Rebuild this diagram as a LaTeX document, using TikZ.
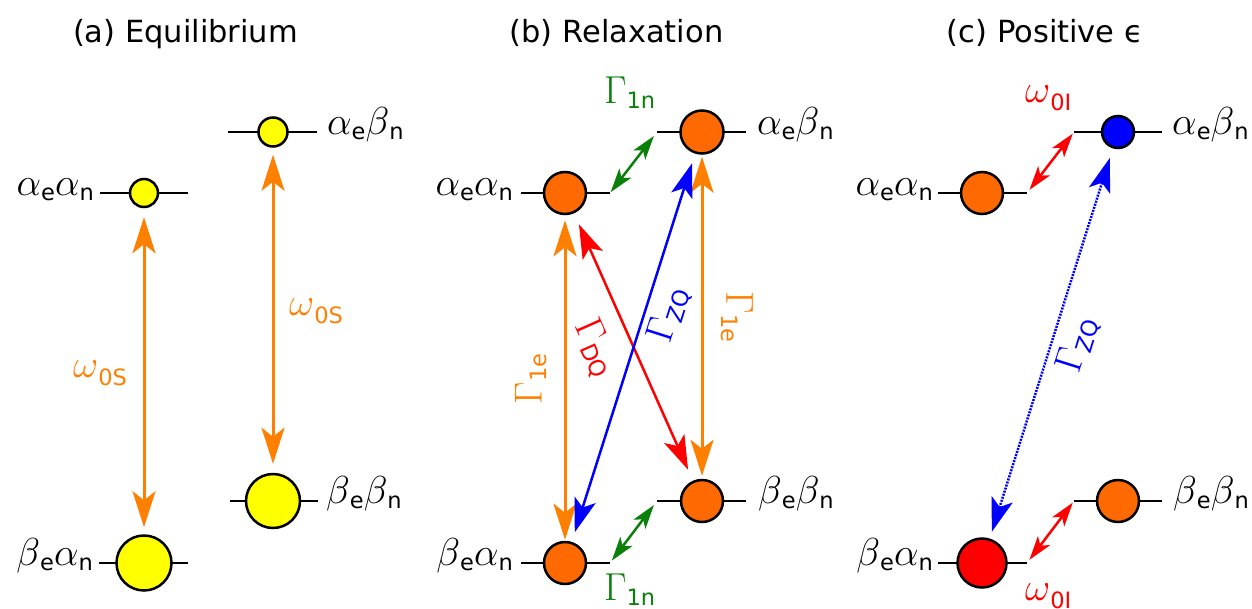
\documentclass[tikz,border=0pt]{standalone}
\usepackage{fix-cm}
\usepackage{fontspec}
\newfontfamily\subf{DejaVu Sans}
\newfontfamily\titf{DejaVu Sans}
\usetikzlibrary{arrows.meta}
\definecolor{yel}{RGB}{255,255,0}
\definecolor{orc}{RGB}{255,106,0}
\definecolor{ora}{RGB}{255,127,0}
\definecolor{grn}{RGB}{10,128,10}
\definecolor{rd}{RGB}{255,0,0}
\definecolor{bl}{RGB}{0,0,255}
\newcommand{\sub}[1]{\raisebox{-5pt}{\fontsize{22.5}{22}\selectfont\subf #1}}
\newcommand{\subw}[1]{\raisebox{-8pt}{\fontsize{22.5}{22}\selectfont\subf #1}}
\newcommand{\mth}{\fontsize{39}{40}\selectfont}
\tikzset{
  lvl/.style={line width=1.5pt, black},
  st/.style={circle, draw=black, line width=2.5pt, inner sep=0pt, minimum size=#1},
  lab/.style={font=\mth, inner sep=0pt},
  ttl/.style={font=\fontsize{30.5}{32}\selectfont\titf, inner sep=0pt, anchor=base},
  oarr/.style={draw=ora, line width=3pt, >={Stealth[length=36pt,width=23pt,inset=9pt]}, <->},
  garr/.style={draw=grn, line width=2.5pt, >={Stealth[length=24pt,width=15pt,inset=6pt]}, <->},
  rarr/.style={draw=rd, line width=2.5pt, >={Stealth[length=24pt,width=15pt,inset=6pt]}, <->},
  darr/.style={line width=2.5pt, >={Stealth[length=34pt,width=22pt,inset=8pt]}, <->},
  zarr/.style={draw=bl, line width=2.5pt, dash pattern=on 2pt off 1.2pt, >={Stealth[length=34pt,width=22pt,inset=8pt]}, <->},
}
\begin{document}
\begin{tikzpicture}[x=1pt,y=-1pt]
\useasboundingbox (0,0) rectangle (1252,608);
% titles
\node[ttl] (ta) at (185.5,42) {(a) Equilibrium};
\node[ttl] (tb) at (616.5,42) {(b) Relaxation};
\node[ttl] (tc) at (1045,42) {(c) Positive ϵ};
% ---------- level line end points
\coordinate (aAA-l) at (100,193); \coordinate (aAA-r) at (188,193);
\coordinate (aAB-l) at (228,132); \coordinate (aAB-r) at (317,132);
\coordinate (aBB-l) at (230,501); \coordinate (aBB-r) at (318,501);
\coordinate (aBA-l) at (99,563);  \coordinate (aBA-r) at (188,563);
\coordinate (bAA-l) at (521,193); \coordinate (bAA-r) at (610,193);
\coordinate (bAB-l) at (657,132); \coordinate (bAB-r) at (746,132);
\coordinate (bBB-l) at (657,501); \coordinate (bBB-r) at (746,501);
\coordinate (bBA-l) at (521,563); \coordinate (bBA-r) at (610,563);
\coordinate (cAA-l) at (938,193); \coordinate (cAA-r) at (1027,193);
\coordinate (cAB-l) at (1074,132); \coordinate (cAB-r) at (1162,132);
\coordinate (cBB-l) at (1074,501); \coordinate (cBB-r) at (1162,501);
\coordinate (cBA-l) at (938,563); \coordinate (cBA-r) at (1027,563);
\foreach \n in {aAA,aAB,aBB,aBA,bAA,bAB,bBB,bBA,cAA,cAB,cBB,cBA}
  \draw[lvl] (\n-l) -- (\n-r);
% ---------- states
\node[st=28pt, fill=yel] (aAA) at (144,193) {};
\node[st=29pt, fill=yel] (aAB) at (273,132) {};
\node[st=54pt, fill=yel] (aBB) at (273,501) {};
\node[st=55pt, fill=yel] (aBA) at (144,563) {};
\node[st=42pt, fill=orc] (bAA) at (565,193) {};
\node[st=43pt, fill=orc] (bAB) at (702,132) {};
\node[st=42pt, fill=orc] (bBB) at (702,501) {};
\node[st=42pt, fill=orc] (bBA) at (565,563) {};
\node[st=42pt, fill=orc] (cAA) at (982,193) {};
\node[st=32pt, fill=bl]  (cAB) at (1118,132) {};
\node[st=42pt, fill=orc] (cBB) at (1118,501) {};
\node[st=49pt, fill=rd]  (cBA) at (982,563) {};
% ---------- state labels
\node[lab, anchor=base east] (laAA) at (94,195) {$\alpha$\sub{e}$\alpha$\sub{n}};
\node[lab, anchor=base west] (laAB) at (327,134) {$\alpha$\sub{e}$\beta$\sub{n}};
\node[lab, anchor=base west] (laBB) at (326,503) {$\beta$\sub{e}$\beta$\sub{n}};
\node[lab, anchor=base east] (laBA) at (93,565) {$\beta$\sub{e}$\alpha$\sub{n}};
\node[lab, anchor=base east] (lbAA) at (513,195) {$\alpha$\sub{e}$\alpha$\sub{n}};
\node[lab, anchor=base west] (lbAB) at (757,134) {$\alpha$\sub{e}$\beta$\sub{n}};
\node[lab, anchor=base west] (lbBB) at (758,503) {$\beta$\sub{e}$\beta$\sub{n}};
\node[lab, anchor=base east] (lbBA) at (513,565) {$\beta$\sub{e}$\alpha$\sub{n}};
\node[lab, anchor=base east] (lcAA) at (933,195) {$\alpha$\sub{e}$\alpha$\sub{n}};
\node[lab, anchor=base west] (lcAB) at (1172,134) {$\alpha$\sub{e}$\beta$\sub{n}};
\node[lab, anchor=base west] (lcBB) at (1173,503) {$\beta$\sub{e}$\beta$\sub{n}};
\node[lab, anchor=base east] (lcBA) at (933,565) {$\beta$\sub{e}$\alpha$\sub{n}};
% ---------- (a) arrows
\draw[oarr, shorten <=9pt, shorten >=7pt] (aAA) -- (aBA);
\draw[oarr, shorten <=7pt, shorten >=9pt] (aAB) -- (aBB);
\node[lab, ora, anchor=base west] (wa1) at (73,377) {$\omega$\subw{0S}};
\node[lab, ora, anchor=base west] (wa2) at (289,315) {$\omega$\subw{0S}};
% ---------- (b) arrows
\draw[garr, shorten <=1pt, shorten >=5pt] (bAA-r) -- (bAB-l);
\draw[garr, shorten <=3pt, shorten >=5pt] (bBA-r) -- (bBB-l);
\node[lab, grn, anchor=base west] (g1) at (604,103) {$\Gamma$\sub{1n}};
\node[lab, grn, anchor=base west] (g2) at (604,600) {$\Gamma$\sub{1n}};
\draw[oarr, shorten <=5pt, shorten >=1pt] (bAA) -- (bBA);
\draw[oarr, shorten <=2pt, shorten >=3pt] (bAB) -- (bBB);
\node[lab, ora, rotate=90] (e1) at (531,379) {$\Gamma$\sub{1e}};
\node[lab, ora, rotate=-90] (e2) at (737,317) {$\Gamma$\sub{1e}};
\draw[darr, draw=rd, shorten <=12pt, shorten >=12pt] (bAA) -- (bBB);
\draw[darr, draw=bl, shorten <=10pt, shorten >=10pt] (bBA) -- (bAB);
\node[lab, rd, rotate=-66] (dq) at (595,348) {$\Gamma$\sub{DQ}};
\node[lab, bl, rotate=72.4] (zq) at (669,315) {$\Gamma$\sub{ZQ}};
% ---------- (c) arrows
\draw[rarr, shorten <=4pt, shorten >=2pt] (cAA-r) -- (cAB-l);
\draw[rarr, shorten <=4pt, shorten >=2pt] (cBA-r) -- (cBB-l);
\node[lab, rd, anchor=base west] (w1) at (1025,102) {$\omega$\subw{0I}};
\node[lab, rd, anchor=base west] (w2) at (1025,600) {$\omega$\subw{0I}};
\draw[zarr, shorten <=7pt, shorten >=10pt] (cBA) -- (cAB);
\node[lab, bl, rotate=72.5] (zq2) at (1078,345) {$\Gamma$\sub{ZQ}};
\end{tikzpicture}
\end{document}
